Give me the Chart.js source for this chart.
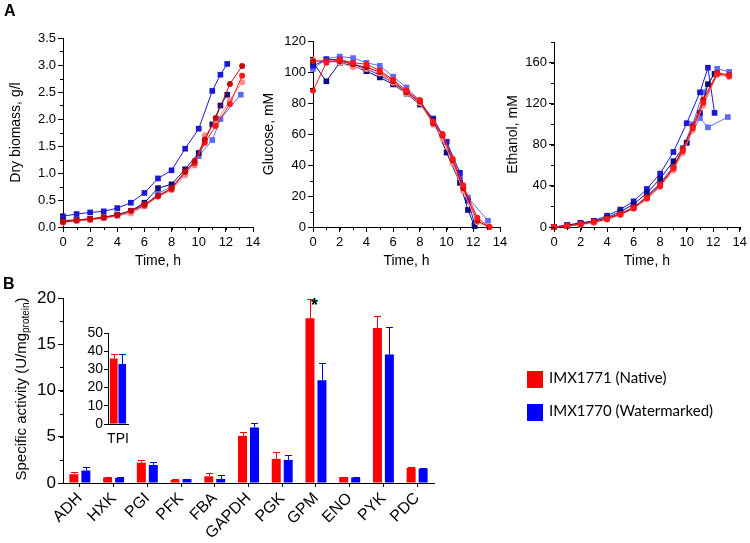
<!DOCTYPE html>
<html>
<head>
<meta charset="utf-8">
<script src="https://cdn.jsdelivr.net/npm/chart.js@4.4.1/dist/chart.umd.min.js"></script>
<style>
  body { margin: 0; background: #fff; }
  #page { position: relative; width: 750px; height: 543px; overflow: hidden; font-family: 'Liberation Sans', Arial, sans-serif; }
  canvas { position: absolute; left: 0; top: 0; }
  .panel { position: absolute; font-weight: bold; font-size: 16px; line-height: 16px; }
  #ytitle-b { position: absolute; left: 21px; top: 389px; transform: translate(-50%, -50%) rotate(-90deg); white-space: nowrap; font-size: 15px; }
  #ytitle-b sub { font-size: 10px; vertical-align: -3px; }
  .legend { position: absolute; left: 527px; font-family: Lato, 'Open Sans', sans-serif; font-size: 15px; }
  .legend span { display: inline-block; width: 16px; height: 17px; vertical-align: middle; margin-right: 6px; }
</style>
</head>
<body>
<div id="page">
  <canvas id="biomass" width="750" height="543"></canvas>
  <canvas id="glucose" width="750" height="543"></canvas>
  <canvas id="ethanol" width="750" height="543"></canvas>
  <canvas id="activity" width="750" height="543"></canvas>
  <canvas id="tpi" width="750" height="543"></canvas>
  <div class="panel" style="left:4px; top:3px;">A</div>
  <div class="panel" style="left:3px; top:276px;">B</div>
  <div id="ytitle-b">Specific activity (U/mg<sub>protein</sub>)</div>
  <div class="legend" style="top:368px;"><span style="background:#ff0000"></span>IMX1771 (Native)</div>
  <div class="legend" style="top:401px;"><span style="background:#0000ff"></span>IMX1770 (Watermarked)</div>
</div>
<script>
// ---- panel A: sampling times (h) ----
const hoursBlue = [0, 1, 2, 3, 4, 5, 6, 7, 8, 9, 10, 11, 11.6, 12.1];
const hoursLight = [0, 1, 2, 3, 4, 5, 6, 7, 8, 9, 10, 11, 11.6, 13.1];
const hoursRed = [0, 1, 2, 3, 4, 5, 6, 7, 8, 9, 9.7, 10.45, 11.25, 12.3, 13.2];

// dry biomass, g/l
const biomassNavy = [0.12, 0.13, 0.15, 0.18, 0.23, 0.30, 0.45, 0.72, 0.79, 1.07, 1.37, 1.90, 2.25, 2.45];
const biomassBlue = [0.20, 0.24, 0.27, 0.29, 0.35, 0.45, 0.63, 0.90, 1.05, 1.45, 1.82, 2.52, 2.82, 3.02];
const biomassLight = [0.10, 0.12, 0.14, 0.17, 0.21, 0.28, 0.39, 0.62, 0.75, 0.98, 1.31, 1.61, 2.00, 2.45];
const biomassDarkRed = [0.10, 0.13, 0.15, 0.18, 0.22, 0.30, 0.42, 0.58, 0.72, 1.03, 1.22, 1.62, 2.02, 2.65, 2.98];
const biomassRed = [0.09, 0.12, 0.14, 0.17, 0.22, 0.30, 0.40, 0.57, 0.70, 1.02, 1.18, 1.56, 1.87, 2.28, 2.80];
const biomassPink = [0.08, 0.11, 0.13, 0.16, 0.20, 0.25, 0.38, 0.56, 0.68, 0.96, 1.14, 1.70, 1.92, 2.35, 2.68];

// glucose, mM
const glucoseNavy = [106, 94, 106, 104, 100.5, 96.5, 92, 86, 79, 69, 48, 28.5, 11, 0.5];
const glucoseBlue = [104, 108, 108, 105, 102, 98, 93, 87, 80, 70, 55, 35, 17, 2];
const glucoseLight = [102, 108.5, 110, 109, 106, 104, 97, 90, 81, 69, 55, 32, 19, 4];
const glucoseDarkRed = [107, 107, 107, 105, 103, 100, 94, 87, 81, 67, 59, 43, 25, 4, 0];
const glucoseRed = [88, 106, 108, 106, 105, 101, 95, 88, 82, 68, 60, 44, 27, 6, 0];
const glucosePink = [108, 107, 106, 103, 102, 99, 93, 86, 80, 66, 57, 41, 23, 3, 0];

// ethanol, mM
const ethanolNavy = [0, 1.5, 3.5, 5.5, 9, 15, 22, 33, 47, 64, 82, 111, 139, 149];
const ethanolBlue = [0, 2, 4, 6, 11, 17, 25, 37, 52, 73, 101, 131, 155, 111];
const ethanolLight = [0, 1, 3, 5, 8, 13, 19, 30, 43, 59, 82, 106, 97, 107];
const ethanolLight2 = [0, 1, 3, 5, 8, 13, 19, 29, 42, 57, 77, 100, 131, 154, 151];
const ethanolDarkRed = [0, 1, 3, 5, 8, 13, 19, 29, 41, 58, 76, 98, 124, 150, 148];
const ethanolRed = [0, 1, 3, 5, 8, 12, 18, 28, 40, 57, 74, 96, 121, 149, 147];
const ethanolPink = [0, 1, 2, 4, 7, 12, 18, 27, 39, 55, 72, 94, 118, 148, 146];

// ---- panel B: enzyme activities ----
const enzymes = ['ADH', 'HXK', 'PGI', 'PFK', 'FBA', 'GAPDH', 'PGK', 'GPM', 'ENO', 'PYK', 'PDC'];
const nativeActivity = [0.95, 0.6, 2.2, 0.32, 0.72, 5.1, 2.6, 17.8, 0.65, 16.75, 1.65];
const nativeError = [0.22, 0.05, 0.32, 0.15, 0.4, 0.4, 0.8, 2.1, 0.05, 1.35, 0.12];
const nativeStars = ['', '', '', '', '', '', '', '*', '', '', ''];
const watermarkActivity = [1.35, 0.55, 1.95, 0.42, 0.45, 6.0, 2.5, 11.1, 0.6, 13.9, 1.55];
const watermarkError = [0.33, 0.05, 0.3, 0.05, 0.4, 0.45, 0.55, 1.9, 0.05, 3.0, 0.12];

const tpiLabels = ['TPI'];
const tpiNative = [36];
const tpiNativeError = [2.7];
const tpiWatermark = [33];
const tpiWatermarkError = [5.5];

const NAVY = '#0c0c7e';
const BLUE = '#1818d6';
const LIGHT = '#5b6cf8';
const DARKRED = '#c40a0a';
const RED = '#ff1616';
const PINK = '#ff8c8c';

Chart.defaults.font.family = "'Liberation Sans', Arial, sans-serif";
Chart.defaults.color = '#000';

// short unlabeled ticks between the labelled ones
const minorTicks = {
    id: 'minorTicks',
    afterDraw(chart, args, opts) {
        const ctx = chart.ctx;
        ctx.save();
        ctx.strokeStyle = '#000';
        ctx.lineWidth = 1;
        ['x', 'y'].forEach(key => {
            const step = opts[key];
            const scale = chart.scales[key];
            if (!step || !scale) return;
            for (let v = scale.min; v <= scale.max + step / 1000; v += step) {
                const p = Math.round(scale.getPixelForValue(v)) + 0.5;
                ctx.beginPath();
                if (key === 'x') {
                    ctx.moveTo(p, scale.top);
                    ctx.lineTo(p, scale.top + 3);
                } else {
                    ctx.moveTo(scale.right, p);
                    ctx.lineTo(scale.right - 3, p);
                }
                ctx.stroke();
            }
        });
        ctx.restore();
    }
};

// upper error bars + significance marks on bar charts
const errorBars = {
    id: 'errorBars',
    afterDatasetsDraw(chart) {
        const ctx = chart.ctx;
        const y = chart.scales.y;
        chart.data.datasets.forEach((ds, i) => {
            const meta = chart.getDatasetMeta(i);
            ctx.save();
            ctx.strokeStyle = ds.backgroundColor;
            ctx.lineWidth = 1;
            meta.data.forEach((bar, j) => {
                const top = Math.round(y.getPixelForValue(ds.data[j] + ds.errors[j])) + 0.5;
                const x = Math.round(bar.x) + 0.5;
                ctx.beginPath();
                ctx.moveTo(x, bar.y);
                ctx.lineTo(x, top);
                ctx.moveTo(x - 3.5, top);
                ctx.lineTo(x + 3.5, top);
                ctx.stroke();
                if (ds.stars && ds.stars[j]) {
                    ctx.fillStyle = '#000';
                    ctx.font = "bold 18px 'Liberation Sans', Arial";
                    ctx.textAlign = 'center';
                    ctx.textBaseline = 'middle';
                    ctx.fillText(ds.stars[j], x + 4, top + 7);
                }
            });
            ctx.restore();
        });
    }
};

function series(hours, values, color, marker) {
    return {
        data: hours.map((h, i) => ({ x: h, y: values[i] })),
        borderColor: color,
        backgroundColor: color,
        borderWidth: 1,
        pointStyle: marker,
        pointRadius: marker === 'rect' ? 4 : 3,
        pointBorderWidth: 0,
        tension: 0,
        clip: false
    };
}

function axisLines(tickLength) {
    return {
        grid: { drawOnChartArea: false, drawTicks: true, tickLength: tickLength, color: '#000' },
        border: { color: '#000', width: 1 }
    };
}

function lineChart(id, datasets, area, titleX, yTitle, yMax, yStep, yMinor, yFormat) {
    const axisLeft = titleX - 8.4;
    new Chart(document.getElementById(id), {
        type: 'line',
        data: { datasets: datasets },
        options: {
            responsive: false,
            animation: false,
            layout: { padding: { left: axisLeft, top: area.top, right: 750 - area.right, bottom: 543 - 269.4 } },
            plugins: {
                legend: { display: false },
                tooltip: { enabled: false },
                minorTicks: { x: 1, y: yMinor }
            },
            scales: {
                x: {
                    type: 'linear', min: 0, max: 14,
                    ...axisLines(5),
                    ticks: { stepSize: 2, padding: 3, font: { size: 13 }, maxRotation: 0 },
                    title: { display: true, text: 'Time, h', font: { size: 14 }, padding: 0 },
                    afterFit: s => { s.height = 269.4 - area.bottom; }
                },
                y: {
                    min: 0, max: yMax,
                    ...axisLines(5),
                    ticks: { stepSize: yStep, padding: 2, font: { size: 13 }, includeBounds: false,
                             callback: v => yFormat ? v.toFixed(1) : v },
                    title: { display: true, text: yTitle, font: { size: 14 }, padding: 0 },
                    afterFit: s => { s.width = area.left - axisLeft; }
                }
            }
        },
        plugins: [minorTicks]
    });
}

lineChart('biomass', [
    series(hoursRed, biomassDarkRed, DARKRED, 'circle'),
    series(hoursRed, biomassRed, RED, 'circle'),
    series(hoursRed, biomassPink, PINK, 'circle'),
    series(hoursBlue, biomassNavy, NAVY, 'rect'),
    series(hoursBlue, biomassBlue, BLUE, 'rect'),
    series(hoursLight, biomassLight, LIGHT, 'rect')
], { left: 63, right: 253, top: 38, bottom: 227 }, 16, 'Dry biomass, g/l', 3.5, 0.5, 0.25, true);

lineChart('glucose', [
    series(hoursRed, glucoseRed, RED, 'circle'),
    series(hoursRed, glucoseDarkRed, DARKRED, 'circle'),
    series(hoursRed, glucosePink, PINK, 'circle'),
    series(hoursBlue, glucoseNavy, NAVY, 'rect'),
    series(hoursBlue, glucoseBlue, BLUE, 'rect'),
    series(hoursLight, glucoseLight, LIGHT, 'rect')
], { left: 313, right: 500, top: 41, bottom: 227 }, 269, 'Glucose, mM', 120, 20, 10, false);

lineChart('ethanol', [
    series(hoursRed, ethanolRed, RED, 'circle'),
    series(hoursRed, ethanolDarkRed, DARKRED, 'circle'),
    series(hoursRed, ethanolPink, PINK, 'circle'),
    series(hoursBlue, ethanolNavy, NAVY, 'rect'),
    series(hoursBlue, ethanolBlue, BLUE, 'rect'),
    series(hoursLight, ethanolLight, LIGHT, 'rect'),
    series(hoursRed, ethanolLight2, LIGHT, 'rect')
], { left: 554, right: 743, top: 42, bottom: 227 }, 513, 'Ethanol, mM', 180, 40, 20, false);

// panel B main bar chart
new Chart(document.getElementById('activity'), {
    type: 'bar',
    data: {
        labels: enzymes,
        datasets: [
            { label: 'IMX1771 (Native)', data: nativeActivity, errors: nativeError, stars: nativeStars,
              backgroundColor: '#ff0000', barPercentage: 0.75, categoryPercentage: 0.71 },
            { label: 'IMX1770 (Watermarked)', data: watermarkActivity, errors: watermarkError,
              backgroundColor: '#0000ff', barPercentage: 0.75, categoryPercentage: 0.71 }
        ]
    },
    options: {
        responsive: false,
        animation: false,
        layout: { padding: { left: 0, top: 298, right: 750 - 434, bottom: 0 } },
        plugins: { legend: { display: false }, tooltip: { enabled: false }, minorTicks: { y: 2.5 } },
        scales: {
            x: {
                ...axisLines(4),
                grid: { drawOnChartArea: false, drawTicks: true, tickLength: 4, color: '#000', offset: false },
                ticks: { font: { size: 16 }, minRotation: 45, maxRotation: 45, autoSkip: false, padding: 2 },
                afterFit: s => { s.height = 543 - 483; }
            },
            y: {
                min: 0, max: 20,
                ...axisLines(5),
                ticks: { stepSize: 5, font: { size: 17 }, padding: 2 },
                afterFit: s => { s.width = 63; }
            }
        }
    },
    plugins: [minorTicks, errorBars]
});

// panel B inset: TPI
new Chart(document.getElementById('tpi'), {
    type: 'bar',
    data: {
        labels: tpiLabels,
        datasets: [
            { data: tpiNative, errors: tpiNativeError, backgroundColor: '#ff0000', barPercentage: 0.9, categoryPercentage: 0.85 },
            { data: tpiWatermark, errors: tpiWatermarkError, backgroundColor: '#0000ff', barPercentage: 0.9, categoryPercentage: 0.85 }
        ]
    },
    options: {
        responsive: false,
        animation: false,
        layout: { padding: { left: 0, top: 333, right: 750 - 128, bottom: 0 } },
        plugins: { legend: { display: false }, tooltip: { enabled: false } },
        scales: {
            x: {
                grid: { drawOnChartArea: false, drawTicks: false },
                border: { color: '#000', width: 1 },
                ticks: { font: { size: 14 }, padding: 7, maxRotation: 0 },
                afterFit: s => { s.height = 543 - 424; }
            },
            y: {
                min: 0, max: 50,
                ...axisLines(4),
                ticks: { stepSize: 10, font: { size: 14 }, padding: 1, autoSkip: false },
                afterFit: s => { s.width = 108; }
            }
        }
    },
    plugins: [errorBars]
});
</script>
</body>
</html>
